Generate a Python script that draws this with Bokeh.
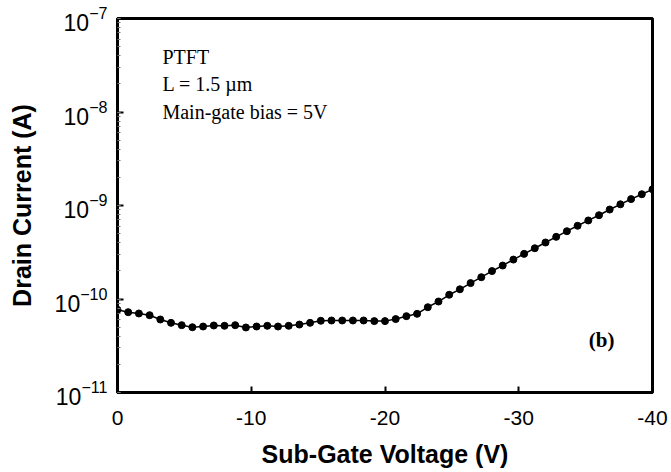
from bokeh.plotting import figure
from bokeh.models import Range1d, Label, FixedTicker, ColumnDataSource
from bokeh.embed import file_html
from bokeh.resources import INLINE

# Sub-gate voltage (V)
voltage = [0.0, -0.8, -1.6, -2.4, -3.2, -4.0, -4.8, -5.6, -6.4, -7.2,
           -8.0, -8.8, -9.6, -10.4, -11.2, -12.0, -12.8, -13.6, -14.4, -15.2,
           -16.0, -16.8, -17.6, -18.4, -19.2, -20.0, -20.8, -21.6, -22.4, -23.2,
           -24.0, -24.8, -25.6, -26.4, -27.2, -28.0, -28.8, -29.6, -30.4, -31.2,
           -32.0, -32.8, -33.6, -34.4, -35.2, -36.0, -36.8, -37.6, -38.4, -39.2,
           -40.0]
# Drain current (A)
current = [7.66e-11, 7.23e-11, 7.00e-11, 6.71e-11, 6.04e-11, 5.56e-11, 5.25e-11, 4.99e-11, 5.08e-11, 5.21e-11,
           5.17e-11, 5.25e-11, 4.96e-11, 5.08e-11, 5.17e-11, 5.08e-11, 5.17e-11, 5.33e-11, 5.56e-11, 5.85e-11,
           5.89e-11, 5.89e-11, 5.89e-11, 5.89e-11, 5.80e-11, 5.80e-11, 6.10e-11, 6.55e-11, 6.94e-11, 8.17e-11,
           9.40e-11, 1.11e-10, 1.27e-10, 1.48e-10, 1.71e-10, 1.99e-10, 2.28e-10, 2.64e-10, 3.04e-10, 3.49e-10,
           4.02e-10, 4.62e-10, 5.31e-10, 6.07e-10, 6.92e-10, 7.87e-10, 9.06e-10, 1.03e-09, 1.17e-09, 1.32e-09,
           1.49e-09]

x_ticks = [0, -10, -20, -30, -40]
x_tick_labels = ["0", "-10", "-20", "-30", "-40"]
annotation_lines = ["PTFT", "L = 1.5 \u00b5m", "Main-gate bias = 5V"]
panel_tag = "(b)"

src = ColumnDataSource(dict(v=voltage, i=current))

p = figure(width=671, height=472, y_axis_type="log",
           x_range=Range1d(0, -40), y_range=Range1d(1e-11, 1e-7),
           output_backend="svg", toolbar_location=None,
           min_border_left=117, min_border_right=19,
           min_border_top=18, min_border_bottom=80)

p.line("v", "i", source=src, line_color="black", line_width=1.5)
p.scatter("v", "i", source=src, size=7, fill_color="black", line_color="black")

p.xgrid.visible = False
p.ygrid.visible = False
p.background_fill_color = "white"
p.border_fill_color = "white"
p.outline_line_color = "black"
p.outline_line_width = 3

# X axis
p.xaxis.ticker = FixedTicker(ticks=x_ticks)
p.xaxis.major_label_overrides = {t: s for t, s in zip(x_ticks, x_tick_labels)}
p.xaxis.axis_label = "Sub-Gate Voltage (V)"
p.xaxis.axis_label_text_font = "Liberation Sans"
p.xaxis.axis_label_text_font_style = "bold"
p.xaxis.axis_label_text_font_size = "25px"
p.xaxis.axis_label_text_color = "black"
p.xaxis.axis_label_standoff = 12
p.xaxis.major_label_text_font = "Liberation Sans"
p.xaxis.major_label_text_font_size = "21px"
p.xaxis.major_label_text_color = "black"
p.xaxis.major_label_standoff = 18
p.xaxis.major_tick_in = 6
p.xaxis.major_tick_out = 0
p.xaxis.major_tick_line_width = 2
p.xaxis.minor_tick_line_color = None
p.xaxis.axis_line_width = 3

# Y axis
p.yaxis.axis_label = "Drain Current (A)"
p.yaxis.axis_label_text_font = "Liberation Sans"
p.yaxis.axis_label_text_font_style = "bold"
p.yaxis.axis_label_text_font_size = "25px"
p.yaxis.axis_label_text_color = "black"
p.yaxis.axis_label_standoff = 16
p.yaxis.major_label_text_font = "Liberation Sans"
p.yaxis.major_label_text_font_size = "23px"
p.yaxis.major_label_text_color = "black"
p.yaxis.major_label_standoff = 10
p.yaxis.major_tick_in = 6
p.yaxis.major_tick_out = 0
p.yaxis.major_tick_line_width = 2
p.yaxis.minor_tick_in = 3
p.yaxis.minor_tick_out = 0
p.yaxis.minor_tick_line_color = "#777777"
p.yaxis.axis_line_width = 3

# Annotations
ann_y = [3.9e-8, 2.0e-8, 1.0e-8]
for txt, yy in zip(annotation_lines, ann_y):
    p.add_layout(Label(x=-3.36, y=yy, text=txt, text_font="Liberation Serif",
                       text_font_size="20px", text_color="black",
                       text_baseline="alphabetic", text_align="left"))

p.add_layout(Label(x=-36.2, y=3.6e-11, text=panel_tag, text_font="Liberation Serif",
                   text_font_size="21px", text_font_style="bold", text_color="black",
                   text_baseline="middle", text_align="center"))

open("out.html", "w").write(file_html(p, INLINE))
